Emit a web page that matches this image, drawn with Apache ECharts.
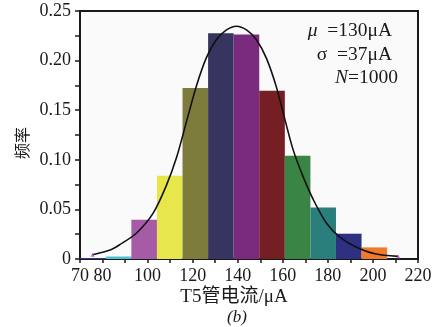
<!DOCTYPE html>
<html>
<head>
<meta charset="utf-8">
<script src="https://cdn.jsdelivr.net/npm/echarts@6/dist/echarts.min.js"></script>
<style>
html,body{margin:0;padding:0;background:#fff;}
#c{width:444px;height:327px;}
</style>
</head>
<body>
<div id="c"></div>
<script>
// Histogram bin edges (µA) and frequencies
const binEdges = [70.1, 81.45, 92.8, 104.15, 115.5, 126.85, 138.2, 149.55, 160.9, 172.25, 183.6, 194.95, 206.3];
const freq = [0.001, 0.0025, 0.0395, 0.084, 0.1725, 0.2275, 0.2262, 0.1695, 0.104, 0.052, 0.0255, 0.0117];
const barColors = ['#2E3A8C', '#4CC0CF', '#A55BA5', '#E7E64A', '#7D7C3C', '#35355F', '#7B2B7E', '#751E23', '#3A8445', '#2A7E7C', '#2E3182', '#F07A2A'];
// Fitted curve points
const curveX = [75.6, 83.7, 87.6, 95.0, 102.4, 108.3, 112.8, 117.2, 121.6, 126.1, 130.5, 135.0, 139.4, 143.9, 148.3, 152.8, 157.2, 160.9, 164.6, 169.0, 173.5, 179.4, 185.3, 192.0, 200.9, 211.2];
const curveY = [0.0043, 0.0094, 0.0144, 0.026, 0.046, 0.074, 0.102, 0.138, 0.174, 0.203, 0.221, 0.231, 0.2347, 0.231, 0.221, 0.202, 0.173, 0.141, 0.110, 0.083, 0.060, 0.036, 0.022, 0.0127, 0.0053, 0.0026];
const xLabelValues = [70, 80, 100, 120, 140, 160, 180, 200, 220];
const yLabelValues = [0, 0.05, 0.10, 0.15, 0.20, 0.25];
const annotations = ['{i|μ}  =130μA', 'σ  =37μA', '{i|N}=1000'];

const serif = "'Liberation Serif','Times New Roman','Noto Sans CJK SC',serif";
const ink = '#1a1a1a';

const barData = freq.map((f, i) => [binEdges[i], binEdges[i + 1], f]);
const curveData = curveX.map((x, i) => [x, curveY[i]]);

const chart = echarts.init(document.getElementById('c'));
chart.setOption({
  animation: false,
  backgroundColor: '#ffffff',
  grid: {left: 80, right: 26, top: 11, bottom: 68, show: true, backgroundColor: '#fafafa', borderColor: ink, borderWidth: 2},
  xAxis: {
    type: 'value', min: 70, max: 220, interval: 10,
    axisLine: {lineStyle: {color: ink, width: 2}},
    axisTick: {show: true, length: 4, lineStyle: {color: ink, width: 1.5}},
    splitLine: {show: false},
    axisLabel: {
      margin: 8, color: ink, fontFamily: serif, fontSize: 18, hideOverlap: false,
      formatter: v => xLabelValues.indexOf(v) >= 0 ? String(v) : ''
    }
  },
  yAxis: {
    type: 'value', min: 0, max: 0.25, interval: 0.025,
    axisLine: {show: true, lineStyle: {color: ink, width: 2}},
    axisTick: {show: true, length: 5, lineStyle: {color: ink, width: 1.5}},
    splitLine: {show: false},
    axisLabel: {
      margin: 9, color: ink, fontFamily: serif, fontSize: 18,
      formatter: v => {
        const k = Math.round(v * 1000);
        const hit = yLabelValues.some(t => Math.round(t * 1000) === k);
        if (!hit) return '';
        return k === 0 ? '0' : (k / 1000).toFixed(2);
      }
    }
  },
  series: [
    {
      type: 'custom',
      data: barData,
      encode: {x: [0, 1], y: 2},
      renderItem: (params, api) => {
        const p0 = api.coord([api.value(0), api.value(2)]);
        const p1 = api.coord([api.value(1), 0]);
        return {type: 'rect', shape: {x: p0[0], y: p0[1], width: p1[0] - p0[0], height: p1[1] - p0[1]},
          style: {fill: barColors[params.dataIndex]}};
      },
      z: 1
    },
    {
      type: 'line', data: curveData, smooth: 0.3, showSymbol: false,
      lineStyle: {color: '#111', width: 1.6}, z: 3
    },
    {
      type: 'scatter', data: [curveData[0], curveData[curveData.length - 1]],
      symbol: 'triangle', symbolSize: 4, itemStyle: {color: '#a050b0'}, z: 4
    }
  ],
  graphic: [
    {type: 'text', x: 22, y: 143, rotation: Math.PI / 2,
      style: {text: '频率', font: "16px 'Noto Sans CJK SC'", fill: ink, align: 'center', verticalAlign: 'middle'}},
    {type: 'text', x: 234, y: 297,
      style: {text: 'T5管电流/μA', font: "19px " + serif, fill: ink, align: 'center', verticalAlign: 'middle'}},
    {type: 'text', x: 237, y: 318,
      style: {text: '(b)', font: "italic 17px " + serif, fill: ink, align: 'center', verticalAlign: 'middle'}},
    {type: 'text', x: 392, y: 31,
      style: {text: annotations[0], font: "19.5px " + serif, fill: ink, align: 'right', verticalAlign: 'middle',
        rich: {i: {fontStyle: 'italic', fontFamily: serif, fontSize: 19.5}}}},
    {type: 'text', x: 392, y: 55,
      style: {text: annotations[1], font: "19.5px " + serif, fill: ink, align: 'right', verticalAlign: 'middle'}},
    {type: 'text', x: 398, y: 78,
      style: {text: annotations[2], font: "19.5px " + serif, fill: ink, align: 'right', verticalAlign: 'middle',
        rich: {i: {fontStyle: 'italic', fontFamily: serif, fontSize: 19.5}}}}
  ]
});
</script>
</body>
</html>
